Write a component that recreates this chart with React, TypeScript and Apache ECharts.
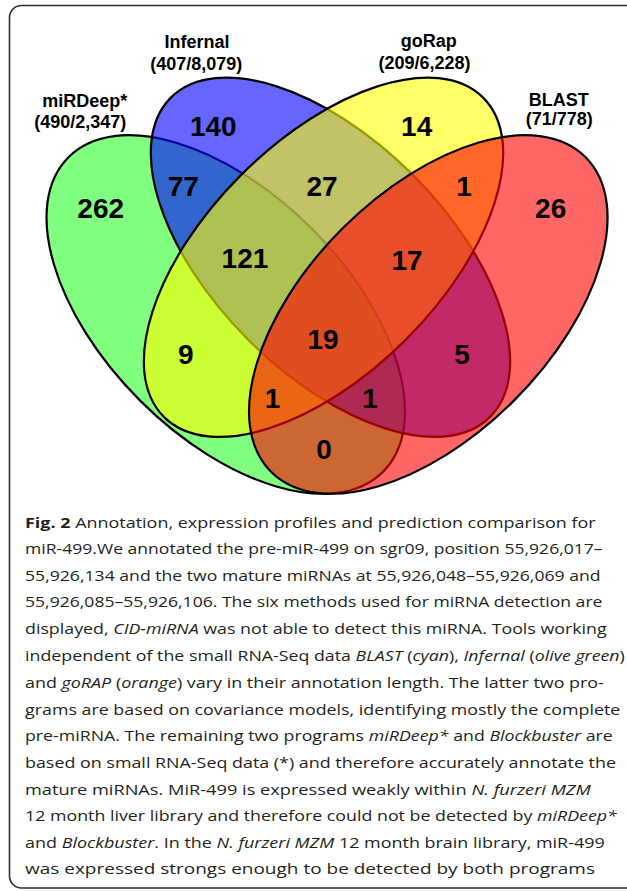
import React, { useEffect, useRef } from "react";
import * as echarts from "echarts";

// ---------- data ----------
const setNames = ["miRDeep*", "Infernal", "goRap", "BLAST"];
const setDetected = [490, 407, 209, 71];
const setTotal = [2347, 8079, 6228, 778];
// regions: A=miRDeep*, B=Infernal, C=goRap, D=BLAST
const regionKeys = ["A", "B", "C", "D", "AB", "BC", "CD", "ABC", "BCD", "AC", "ABCD", "BD", "ACD", "ABD", "AD"];
const regionCounts = [262, 140, 14, 26, 77, 27, 1, 121, 17, 9, 19, 5, 1, 1, 0];

// ---------- layout (Venn units: x 0..1, y 0..0.8) ----------
// [cx, cy, semi-major, semi-minor, angle deg]
const ellipseGeom = [
  [0.3313, 0.3092, 0.3708, 0.2025, 135],
  [0.5058, 0.4046, 0.3763, 0.1942, 135],
  [0.4942, 0.4046, 0.3763, 0.1942, 45],
  [0.6688, 0.3092, 0.3708, 0.2025, 45],
];
const ellipseFills = ["rgba(43,255,43,0.6)", "rgba(0,0,255,0.6)", "rgba(255,255,0,0.6)", "rgba(255,0,0,0.6)"];
const regionLabelPos = [
  [0.1228, 0.4862], [0.3105, 0.6222], [0.6495, 0.6233], [0.8728, 0.4862],
  [0.2605, 0.5222], [0.4917, 0.5217], [0.7283, 0.5222],
  [0.3633, 0.4028], [0.6333, 0.4], [0.2645, 0.2417], [0.4933, 0.2683],
  [0.725, 0.2417], [0.4092, 0.1687], [0.5717, 0.1695], [0.495, 0.0845],
];
const setNamePos = [[0.0962, 0.6655], [0.2833, 0.7633], [0.6697, 0.7655], [0.8863, 0.6667]];
const setCountPos = [[0.0887, 0.6305], [0.282, 0.7275], [0.6625, 0.7278], [0.8872, 0.6345]];

// ---------- caption ----------
const captionLines = [
  "{b|Fig. 2} Annotation, expression profiles and prediction comparison for",
  "miR-499.We annotated the pre-miR-499 on sgr09, position 55,926,017–",
  "55,926,134 and the two mature miRNAs at 55,926,048–55,926,069 and",
  "55,926,085–55,926,106. The six methods used for miRNA detection are",
  "displayed, {i|CID-miRNA} was not able to detect this miRNA. Tools working",
  "independent of the small RNA-Seq data {i|BLAST} ({i|cyan}), {i|Infernal} ({i|olive green})",
  "and {i|goRAP} ({i|orange}) vary in their annotation length. The latter two pro-",
  "grams are based on covariance models, identifying mostly the complete",
  "pre-miRNA. The remaining two programs {i|miRDeep*} and {i|Blockbuster} are",
  "based on small RNA-Seq data (*) and therefore accurately annotate the",
  "mature miRNAs. MiR-499 is expressed weakly within {i|N. furzeri MZM}",
  "12 month liver library and therefore could not be detected by {i|miRDeep*}",
  "and {i|Blockbuster}. In the {i|N. furzeri MZM} 12 month brain library, miR-499",
  "was expressed strongs enough to be detected by both programs",
];
const captionLineEnds = [596, 603, 601, 603, 607, 625, 604, 621, 613, 616, 591, 617, 605, 595];

const CAP_FONT = '"Open Sans"';
const CAP_SIZE = 15;
const CAP_LEFT = 25;
const CAP_TOP = 521.7;
const CAP_STEP = 26.7;
const VENN_FONT = '"Liberation Sans", Arial, Helvetica, sans-serif';

function measureRich(line: string, size: number, family: string): number {
  const canvas = document.createElement("canvas");
  const ctx = canvas.getContext("2d");
  if (!ctx) return 1;
  const re = /\{(\w)\|([^}]*)\}|([^{]+)/g;
  let m: RegExpExecArray | null;
  let w = 0;
  while ((m = re.exec(line))) {
    let style = "normal";
    let weight = "normal";
    let text = "";
    if (m[1]) {
      text = m[2];
      if (m[1] === "i") style = "italic";
      if (m[1] === "b") weight = "bold";
    } else {
      text = m[3];
    }
    ctx.font = `${style} ${weight} ${size}px ${family}`;
    w += ctx.measureText(text).width;
  }
  return w || 1;
}

export default function App() {
  const ref = useRef<HTMLDivElement>(null);

  useEffect(() => {
    const el = ref.current;
    if (!el) return;
    const chart = echarts.init(el, null, { renderer: "svg" });

    const fmt = (n: number) => n.toLocaleString("en-US");

    const captionGraphics = captionLines.map((line, i) => {
      const natural = measureRich(line, CAP_SIZE, CAP_FONT);
      const target = captionLineEnds[i] - CAP_LEFT;
      return {
        type: "text",
        x: CAP_LEFT,
        y: CAP_TOP + i * CAP_STEP,
        scaleX: target / natural,
        style: {
          text: line,
          fill: "#231f20",
          fontFamily: CAP_FONT,
          fontSize: CAP_SIZE,
          align: "left",
          verticalAlign: "middle",
          rich: {
            b: { fontWeight: "bold", fontFamily: CAP_FONT, fontSize: CAP_SIZE, fill: "#231f20" },
            i: { fontStyle: "italic", fontFamily: CAP_FONT, fontSize: CAP_SIZE, fill: "#231f20" },
          },
        },
      };
    });

    const option: any = {
      animation: false,
      backgroundColor: "#ffffff",
      grid: { left: 27, top: 20, width: 600, height: 480, containLabel: false },
      xAxis: { type: "value", min: 0, max: 1, show: false },
      yAxis: { type: "value", min: 0, max: 0.8, show: false },
      graphic: [
        {
          type: "rect",
          z: -10,
          shape: { x: 9.5, y: 5.5, width: 650, height: 882.5, r: 12 },
          style: { fill: "none", stroke: "#2e2e2e", lineWidth: 1.6 },
        },
        ...captionGraphics,
      ],
      series: [
        {
          type: "custom",
          name: "sets",
          coordinateSystem: "cartesian2d",
          clip: false,
          silent: true,
          data: ellipseGeom.map((g, i) => [g[0], g[1], g[2], g[3], g[4], i]),
          renderItem: (params: any, api: any) => {
            const c = api.coord([api.value(0), api.value(1)]);
            const s = api.size([api.value(2), api.value(3)]);
            const idx = api.value(5);
            return {
              type: "ellipse",
              x: c[0],
              y: c[1],
              rotation: (api.value(4) * Math.PI) / 180,
              z2: idx,
              shape: { cx: 0, cy: 0, rx: s[0], ry: s[1] },
              style: { fill: ellipseFills[idx], stroke: "#000000", lineWidth: 2.2 },
            };
          },
        },
        {
          type: "custom",
          name: "regions",
          coordinateSystem: "cartesian2d",
          clip: false,
          silent: true,
          z: 5,
          data: regionCounts.map((v, i) => [regionLabelPos[i][0], regionLabelPos[i][1], i]),
          renderItem: (params: any, api: any) => {
            const c = api.coord([api.value(0), api.value(1)]);
            const idx = api.value(2);
            return {
              type: "text",
              x: c[0],
              y: c[1],
              style: {
                text: String(regionCounts[idx]),
                fill: "#000000",
                fontFamily: VENN_FONT,
                fontWeight: "bold",
                fontSize: 28,
                align: "center",
                verticalAlign: "middle",
              },
            };
          },
        },
        {
          type: "custom",
          name: "setLabels",
          coordinateSystem: "cartesian2d",
          clip: false,
          silent: true,
          z: 5,
          data: [
            ...setNames.map((n, i) => [setNamePos[i][0], setNamePos[i][1], i, 0]),
            ...setNames.map((n, i) => [setCountPos[i][0], setCountPos[i][1], i, 1]),
          ],
          renderItem: (params: any, api: any) => {
            const c = api.coord([api.value(0), api.value(1)]);
            const idx = api.value(2);
            const kind = api.value(3);
            const text = kind === 0 ? setNames[idx] : `(${setDetected[idx]}/${fmt(setTotal[idx])})`;
            return {
              type: "text",
              x: c[0],
              y: c[1],
              style: {
                text,
                fill: "#000000",
                fontFamily: VENN_FONT,
                fontWeight: "bold",
                fontSize: 18,
                align: "center",
                verticalAlign: "middle",
              },
            };
          },
        },
      ],
    };

    chart.setOption(option);
    return () => {
      chart.dispose();
    };
  }, []);

  return (
    <div
      ref={ref}
      style={{ position: "absolute", left: 0, top: 0, width: 627, height: 891, background: "#ffffff" }}
    />
  );
}
